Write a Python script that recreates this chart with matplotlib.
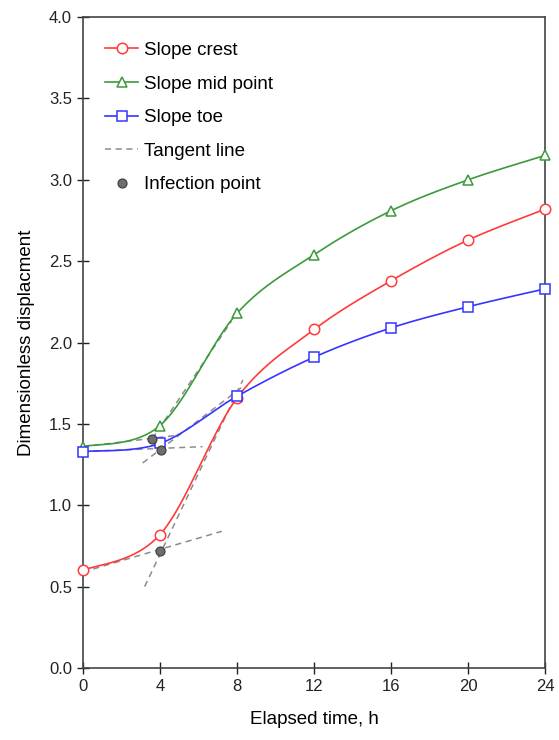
import numpy as np
from matplotlib import pyplot as plt

plt.rcParams['font.family'] = ['Liberation Sans', 'DejaVu Sans']

# elapsed time (h) and measured displacements
t = [0, 4, 8, 12, 16, 20, 24]
crest = [0.60, 0.82, 1.66, 2.08, 2.38, 2.63, 2.82]
mid = [1.36, 1.49, 2.18, 2.54, 2.81, 3.00, 3.15]
toe = [1.33, 1.38, 1.67, 1.91, 2.09, 2.22, 2.33]

# tangent segments: (x0, x1), (y0, y1)
tangents = [
    ((0.0, 7.2), (0.59, 0.84)),
    ((3.2, 8.3), (0.50, 1.77)),
    ((0.0, 4.9), (1.36, 1.43)),
    ((3.6, 7.7), (1.41, 2.13)),
    ((0.0, 6.2), (1.33, 1.36)),
    ((3.1, 8.3), (1.26, 1.73)),
]
infl_x = [4.0, 3.6, 4.05]
infl_y = [0.72, 1.41, 1.34]


def smooth(x, y, n=40):
    # bezier smoothing through every point (control = neighbours / 6)
    p = np.column_stack([x, y]).astype(float)
    p = np.vstack([p[0], p, p[-1]])
    out = []
    s = np.linspace(0, 1, n)[:, None]
    for i in range(1, len(p) - 2):
        a = p[i]
        d = p[i + 1]
        b = a + (p[i + 1] - p[i - 1]) / 6
        c = d - (p[i + 2] - p[i]) / 6
        seg = (1 - s)**3 * a + 3 * (1 - s)**2 * s * b + 3 * (1 - s) * s**2 * c + s**3 * d
        out.append(seg)
    out = np.vstack(out)
    return out[:, 0], out[:, 1]


fig = plt.figure(figsize=(5.59, 7.40), dpi=100)
ax = fig.add_axes([0.1485, 0.0973, 0.827, 0.8797])

series = [
    (crest, '#FF3B3B', 'o', 'Slope crest'),
    (mid, '#3C9A3C', '^', 'Slope mid point'),
    (toe, '#3535FF', 's', 'Slope toe'),
]
for vals, col, mk, lab in series:
    sx, sy = smooth(t, vals)
    ax.plot(sx, sy, color=col, lw=1.2, zorder=3)
    ax.plot(t, vals, linestyle='None', marker=mk, ms=7.5, mfc='white',
            mec=col, mew=1.1, zorder=4, clip_on=False)
    ax.plot([], [], color=col, lw=1.2, marker=mk, ms=7.5, mfc='white',
            mec=col, mew=1.1, label=lab)

for i, (xs, ys) in enumerate(tangents):
    ax.plot(xs, ys, color='#8C8C8C', ls=(0, (4, 3)), lw=1.1, zorder=2,
            label='Tangent line' if i == 0 else None)

ax.plot(infl_x, infl_y, linestyle='None', marker='o', ms=6.5, mfc='#6E6E6E',
        mec='#3A3A3A', mew=0.8, zorder=5, label='Infection point')

ax.set_xlim(0, 24)
ax.set_ylim(0, 4.0)
ax.set_xticks(np.arange(0, 25, 4))
ax.set_yticks(np.arange(0, 4.01, 0.5))
ax.set_yticklabels(['%.1f' % v for v in np.arange(0, 4.01, 0.5)])
ax.tick_params(direction='inout', length=8, width=1.0, labelsize=12,
               colors='#222222', pad=4)
for sp in ax.spines.values():
    sp.set_linewidth(1.2)
    sp.set_color('#444444')

ax.set_xlabel('Elapsed time, h', fontsize=13.5, labelpad=12)
ax.set_ylabel('Dimensionless displacment', fontsize=13.5, labelpad=10)

ax.legend(loc='upper left', bbox_to_anchor=(0.02, 0.982), frameon=False,
          fontsize=13.5, handlelength=1.75, handletextpad=0.3, labelspacing=0.88,
          borderaxespad=0.3)

fig.savefig('out.png', dpi=100)
